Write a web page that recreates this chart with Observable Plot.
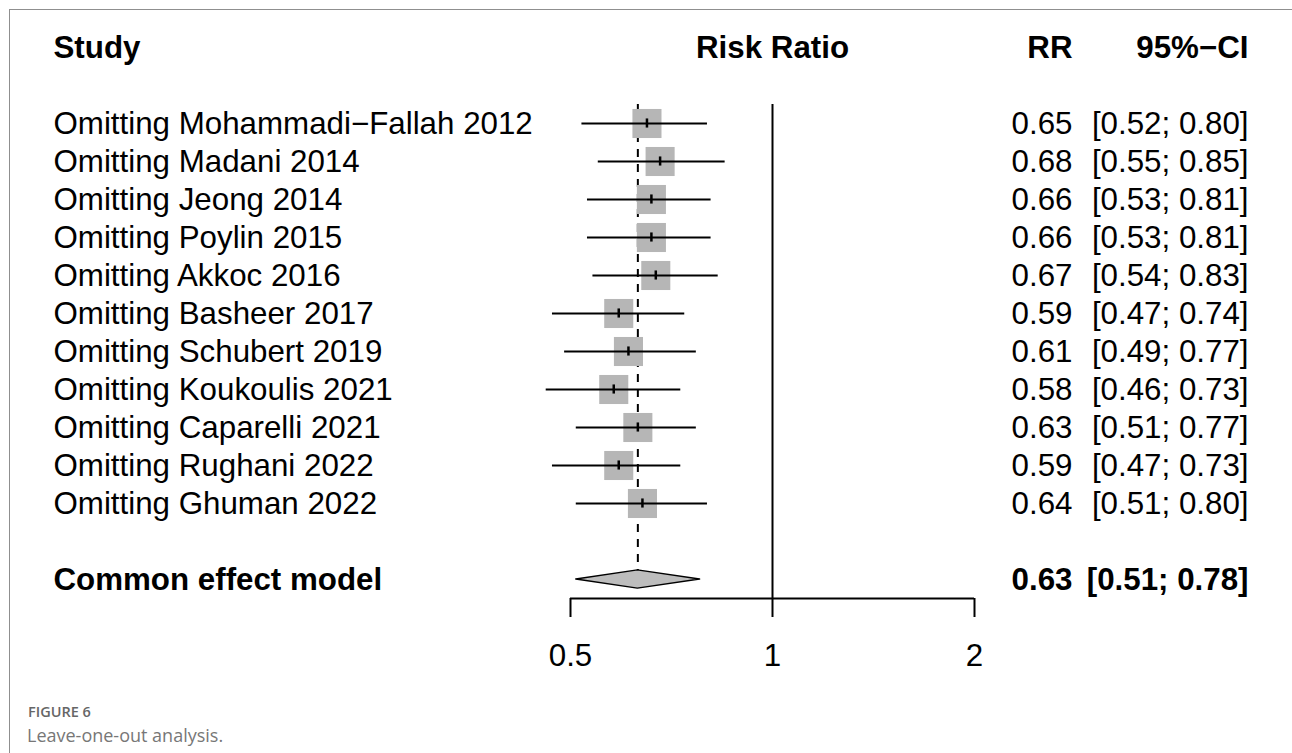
<!DOCTYPE html>
<html>
<head>
<meta charset="utf-8">
<script src="https://cdn.jsdelivr.net/npm/d3@7"></script>
<script src="https://cdn.jsdelivr.net/npm/@observablehq/plot@0.6"></script>
<style>
  html, body { margin: 0; padding: 0; background: #fff; overflow: hidden; width: 1292px; height: 753px; }
  #chart { position: absolute; left: 0; top: 0; }
  #frame { position: absolute; left: 9px; top: 9px; right: 0; bottom: 0; border-top: 1px solid #8f8f8f; border-left: 1px solid #8f8f8f; pointer-events: none; }
  .cap1 { position: absolute; left: 28px; top: 704px; font-family: "Open Sans", sans-serif; font-weight: 600; font-size: 14.5px; line-height: 16px; color: #666; white-space: nowrap; }
  .cap2 { position: absolute; left: 27px; top: 725px; font-family: "Open Sans", sans-serif; font-weight: 400; font-size: 18px; line-height: 20px; color: #777; white-space: nowrap; }
</style>
</head>
<body>
<div id="chart"></div>
<div id="frame"></div>
<div class="cap1">FIGURE 6</div>
<div class="cap2">Leave-one-out analysis.</div>
<script>
// ---- data ----
const studyLabels = [
  "Omitting Mohammadi\u2212Fallah 2012",
  "Omitting Madani 2014",
  "Omitting Jeong 2014",
  "Omitting Poylin 2015",
  "Omitting Akkoc 2016",
  "Omitting Basheer 2017",
  "Omitting Schubert 2019",
  "Omitting Koukoulis 2021",
  "Omitting Caparelli 2021",
  "Omitting Rughani 2022",
  "Omitting Ghuman 2022"
];
const rrValues = [0.65, 0.68, 0.66, 0.66, 0.67, 0.59, 0.61, 0.58, 0.63, 0.59, 0.64];
const lowerCI  = [0.52, 0.55, 0.53, 0.53, 0.54, 0.47, 0.49, 0.46, 0.51, 0.47, 0.51];
const upperCI  = [0.80, 0.85, 0.81, 0.81, 0.83, 0.74, 0.77, 0.73, 0.77, 0.73, 0.80];
const pooledLabel = "Common effect model";
const pooledRR = 0.63, pooledLower = 0.51, pooledUpper = 0.78;
const headers = {study: "Study", effect: "Risk Ratio", rr: "RR", ci: "95%\u2212CI"};
const xTicks = [0.5, 1, 2];
const xTickLabels = ["0.5", "1", "2"];
const nullEffect = 1;

// ---- layout (row units) ----
const headerRow = -1, pooledRow = studyLabels.length + 2, axisRow = pooledRow + 0.5;
const fmt = v => v.toFixed(2);
const rows = studyLabels.map((label, i) => ({
  label, rr: rrValues[i], lo: lowerCI[i], hi: upperCI[i], row: i + 1,
  rrText: fmt(rrValues[i]), ciText: `[${fmt(lowerCI[i])}; ${fmt(upperCI[i])}]`
}));
const pooled = [{label: pooledLabel, rr: pooledRR, lo: pooledLower, hi: pooledUpper, row: pooledRow,
  rrText: fmt(pooledRR), ciText: `[${fmt(pooledLower)}; ${fmt(pooledUpper)}]`}];
const dh = 0.24;
const diamond = [
  {x: pooledLower, y1: pooledRow, y2: pooledRow},
  {x: pooledRR, y1: pooledRow - dh, y2: pooledRow + dh},
  {x: pooledUpper, y1: pooledRow, y2: pooledRow}
];

const FS = 31.3;
const labelDx = -517, rrDx = 98, ciDx = 274;

const chart = Plot.plot({
  width: 1292,
  height: 680,
  marginLeft: 570,
  marginRight: 318,
  marginTop: 9,
  marginBottom: 82,
  x: {type: "log", domain: [xTicks[0], xTicks[xTicks.length - 1]]},
  y: {domain: [axisRow, -2], axis: null},
  style: {fontFamily: "'Liberation Sans', Arial, Helvetica, sans-serif", fontSize: FS + "px", color: "black", background: "transparent", overflow: "visible"},
  marks: [
    // reference lines
    Plot.ruleX([nullEffect], {y1: 0.5, y2: axisRow, strokeWidth: 2, stroke: "black"}),
    Plot.ruleX([pooledRR], {y1: 0.5, y2: pooledRow - dh, strokeWidth: 2, stroke: "black", strokeDasharray: "8,7"}),
    // squares
    Plot.dot(rows, {x: "rr", y: "row", symbol: "square", r: 16.4, fill: "#b6b6b6"}),
    // CIs
    Plot.ruleY(rows, {y: "row", x1: "lo", x2: "hi", strokeWidth: 2, stroke: "black"}),
    Plot.ruleX(rows, {x: "rr", y1: d => d.row - 0.12, y2: d => d.row + 0.12, strokeWidth: 2.5, stroke: "black"}),
    // diamond
    Plot.areaY(diamond, {x: "x", y1: "y1", y2: "y2", fill: "#bdbdbd", stroke: "black", strokeWidth: 1.5}),
    // axis line
    Plot.ruleY([axisRow], {strokeWidth: 2, stroke: "black"}),
    Plot.axisX(xTicks, {tickFormat: d => xTickLabels[xTicks.indexOf(d)], tickSize: 19, tickPadding: 26, strokeWidth: 2, fontSize: FS, label: null}),
    // headers
    Plot.text([headers.study], {y: headerRow, frameAnchor: "left", dx: labelDx, textAnchor: "start", fontWeight: "bold", fontSize: FS}),
    Plot.text([headers.effect], {x: nullEffect, y: headerRow, textAnchor: "middle", fontWeight: "bold", fontSize: FS}),
    Plot.text([headers.rr], {y: headerRow, frameAnchor: "right", dx: rrDx, textAnchor: "end", fontWeight: "bold", fontSize: FS}),
    Plot.text([headers.ci], {y: headerRow, frameAnchor: "right", dx: ciDx, textAnchor: "end", fontWeight: "bold", fontSize: FS}),
    // study rows
    Plot.text(rows, {y: "row", text: "label", frameAnchor: "left", dx: labelDx, textAnchor: "start", fontSize: FS}),
    Plot.text(rows, {y: "row", text: "rrText", frameAnchor: "right", dx: rrDx, textAnchor: "end", fontSize: FS}),
    Plot.text(rows, {y: "row", text: "ciText", frameAnchor: "right", dx: ciDx, textAnchor: "end", fontSize: FS}),
    // pooled row
    Plot.text(pooled, {y: "row", text: "label", frameAnchor: "left", dx: labelDx, textAnchor: "start", fontWeight: "bold", fontSize: FS}),
    Plot.text(pooled, {y: "row", text: "rrText", frameAnchor: "right", dx: rrDx, textAnchor: "end", fontWeight: "bold", fontSize: FS}),
    Plot.text(pooled, {y: "row", text: "ciText", frameAnchor: "right", dx: ciDx, textAnchor: "end", fontWeight: "bold", fontSize: FS})
  ]
});
document.getElementById("chart").appendChild(chart);
</script>
</body>
</html>
